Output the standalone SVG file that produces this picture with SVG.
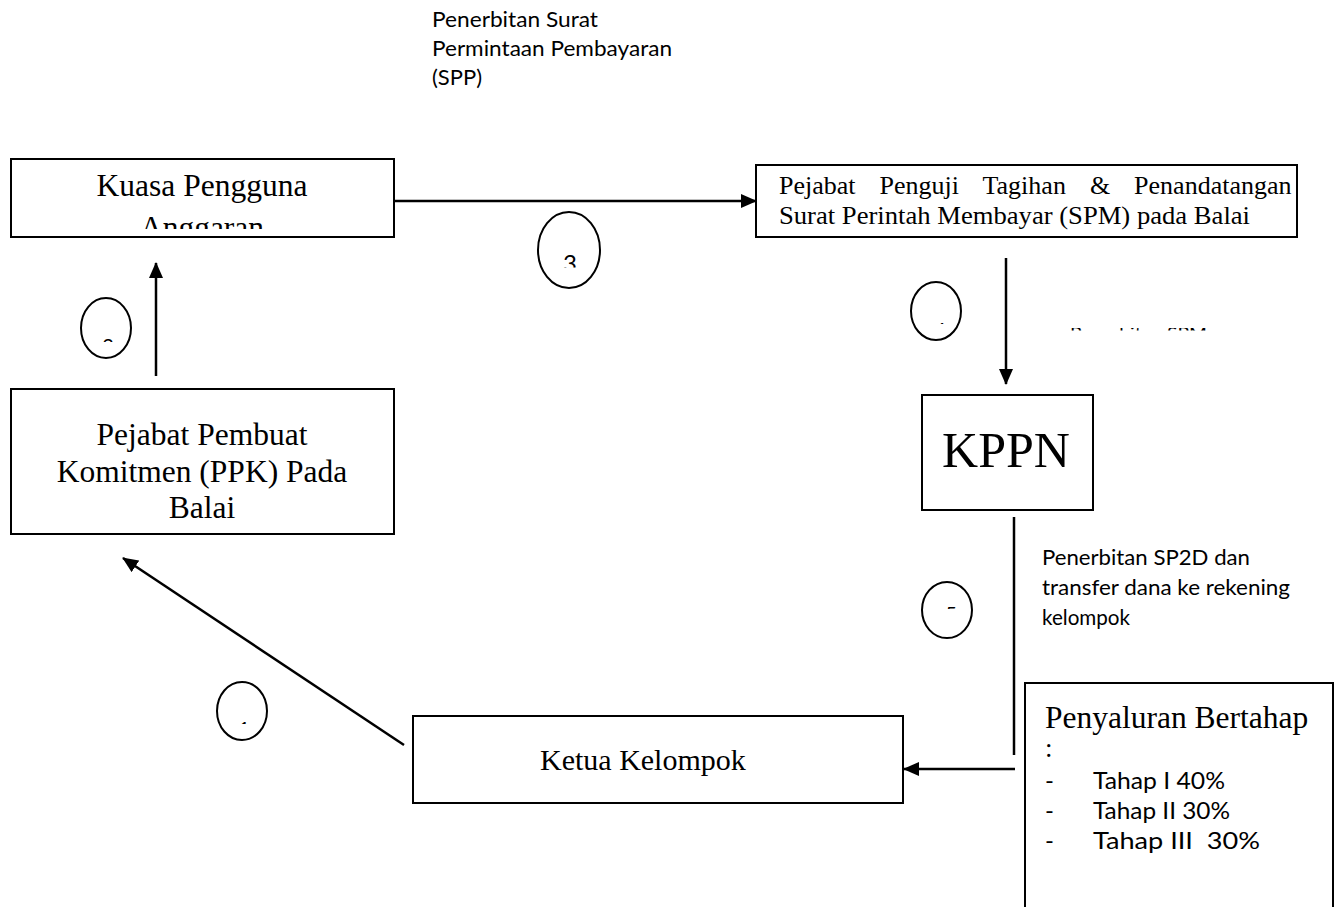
<svg xmlns="http://www.w3.org/2000/svg" width="1339" height="907" viewBox="0 0 1339 907">
<style>
.box{fill:#fff;stroke:#000;stroke-width:2}
.ser{font-family:"Liberation Serif","Times New Roman",serif;fill:#000}
.san{font-family:Lato,"Liberation Sans",Arial,sans-serif;fill:#000}
.ln{stroke:#000;stroke-width:2.5;fill:none}
.ov{fill:none;stroke:#000;stroke-width:2}
</style>
<defs>
<marker id="ah" markerUnits="userSpaceOnUse" markerWidth="16" markerHeight="14" refX="15" refY="7" orient="auto">
<path d="M0,0 L16,7 L0,14 Z" fill="#000"/>
</marker>
<clipPath id="cKPA"><rect x="11" y="159" width="383" height="70"/></clipPath>
<clipPath id="cSPM"><rect x="1060" y="328" width="160" height="2.6"/></clipPath>
<clipPath id="c2"><rect x="90" y="337" width="36" height="5"/></clipPath>
<clipPath id="c3"><rect x="545" y="240" width="50" height="27.5"/></clipPath>
<clipPath id="c4"><rect x="925" y="319" width="30" height="5"/></clipPath>
<clipPath id="c5"><rect x="935" y="605" width="30" height="4"/></clipPath>
<clipPath id="c1"><rect x="230" y="720" width="30" height="4"/></clipPath>
</defs>

<g id="connectors">
<line class="ln" x1="394" y1="201" x2="756" y2="201" marker-end="url(#ah)"/>
<line class="ln" x1="1006" y1="258" x2="1006" y2="384" marker-end="url(#ah)"/>
<line class="ln" x1="1014" y1="517" x2="1014" y2="755"/>
<line class="ln" x1="1015" y1="769" x2="904" y2="769" marker-end="url(#ah)"/>
<line class="ln" x1="404" y1="745" x2="123" y2="558" marker-end="url(#ah)"/>
<line class="ln" x1="156" y1="376" x2="156" y2="263" marker-end="url(#ah)"/>
</g>

<g id="label-spp">
<text class="san" font-size="21.5" x="432" y="27" textLength="166" lengthAdjust="spacingAndGlyphs">Penerbitan Surat</text>
<text class="san" font-size="21.5" x="432" y="56" textLength="240" lengthAdjust="spacingAndGlyphs">Permintaan Pembayaran</text>
<text class="san" font-size="21.5" x="432" y="85" textLength="50" lengthAdjust="spacingAndGlyphs">(SPP)</text>
</g>

<g id="node-kpa">
<rect class="box" x="11" y="159" width="383" height="78"/>
<g clip-path="url(#cKPA)">
<text class="ser" font-size="31.5" x="202" y="196" text-anchor="middle">Kuasa Pengguna</text>
<text class="ser" font-size="31.5" x="202" y="238" text-anchor="middle">Anggaran</text>
</g>
</g>

<g id="node-penguji">
<rect class="box" x="756" y="165" width="541" height="72"/>
<text class="ser" font-size="26" x="779" y="194" word-spacing="17.5">Pejabat Penguji Tagihan &amp; Penandatangan</text>
<text class="ser" font-size="26" x="779" y="224" textLength="471" lengthAdjust="spacingAndGlyphs">Surat Perintah Membayar (SPM) pada Balai</text>
</g>

<g id="node-kppn">
<rect class="box" x="922" y="395" width="171" height="115"/>
<text class="ser" font-size="50" x="1006" y="467" text-anchor="middle">KPPN</text>
</g>

<g id="node-ppk">
<rect class="box" x="11" y="389" width="383" height="145"/>
<text class="ser" font-size="31.5" x="202" y="445" text-anchor="middle">Pejabat Pembuat</text>
<text class="ser" font-size="31.5" x="202" y="482" text-anchor="middle">Komitmen (PPK) Pada</text>
<text class="ser" font-size="31.5" x="202" y="518" text-anchor="middle">Balai</text>
</g>

<g id="node-ketua">
<rect class="box" x="413" y="716" width="490" height="87"/>
<text class="ser" font-size="30" x="540" y="770">Ketua Kelompok</text>
</g>

<g id="node-penyaluran">
<rect class="box" x="1025" y="683" width="308" height="240"/>
<text class="ser" font-size="31.5" x="1045" y="728">Penyaluran Bertahap</text>
<text class="ser" font-size="27" x="1045" y="757">:</text>
<text class="san" font-size="24" x="1045" y="789">-</text>
<text class="san" font-size="24" x="1093" y="789" textLength="132" lengthAdjust="spacingAndGlyphs">Tahap I 40%</text>
<text class="san" font-size="24" x="1045" y="819">-</text>
<text class="san" font-size="24" x="1093" y="819" textLength="137" lengthAdjust="spacingAndGlyphs">Tahap II 30%</text>
<text class="san" font-size="24" x="1045" y="849">-</text>
<text class="san" font-size="24" x="1093" y="849" textLength="167" lengthAdjust="spacingAndGlyphs" xml:space="preserve">Tahap III  30%</text>
</g>

<g id="label-sp2d">
<text class="san" font-size="20.5" x="1042" y="565" textLength="208" lengthAdjust="spacingAndGlyphs">Penerbitan SP2D dan</text>
<text class="san" font-size="20.5" x="1042" y="595" textLength="248" lengthAdjust="spacingAndGlyphs">transfer dana ke rekening</text>
<text class="san" font-size="20.5" x="1042" y="625" textLength="88" lengthAdjust="spacingAndGlyphs">kelompok</text>
</g>

<g id="label-spm" clip-path="url(#cSPM)">
<text class="san" font-size="17" x="1070" y="340" textLength="137" lengthAdjust="spacingAndGlyphs">Penerbitan SPM</text>
</g>

<g id="circle-1">
<ellipse class="ov" cx="242" cy="711" rx="25" ry="29"/>
<text class="san" font-size="20" x="244" y="736" text-anchor="middle" clip-path="url(#c1)">1</text>
</g>
<g id="circle-2">
<ellipse class="ov" cx="106" cy="328" rx="25" ry="30"/>
<text class="san" font-size="20" x="108" y="353" text-anchor="middle" clip-path="url(#c2)">2</text>
</g>
<g id="circle-3">
<ellipse class="ov" cx="569" cy="250" rx="31" ry="38"/>
<text class="san" font-size="24" x="570" y="272" text-anchor="middle" clip-path="url(#c3)">3</text>
</g>
<g id="circle-4">
<ellipse class="ov" cx="936" cy="311" rx="25" ry="29"/>
<text class="san" font-size="20" x="940" y="337" text-anchor="middle" clip-path="url(#c4)">4</text>
</g>
<g id="circle-5">
<ellipse class="ov" cx="947" cy="610" rx="25" ry="28"/>
<text class="san" font-size="20" x="951" y="621" text-anchor="middle" clip-path="url(#c5)">5</text>
</g>
</svg>
